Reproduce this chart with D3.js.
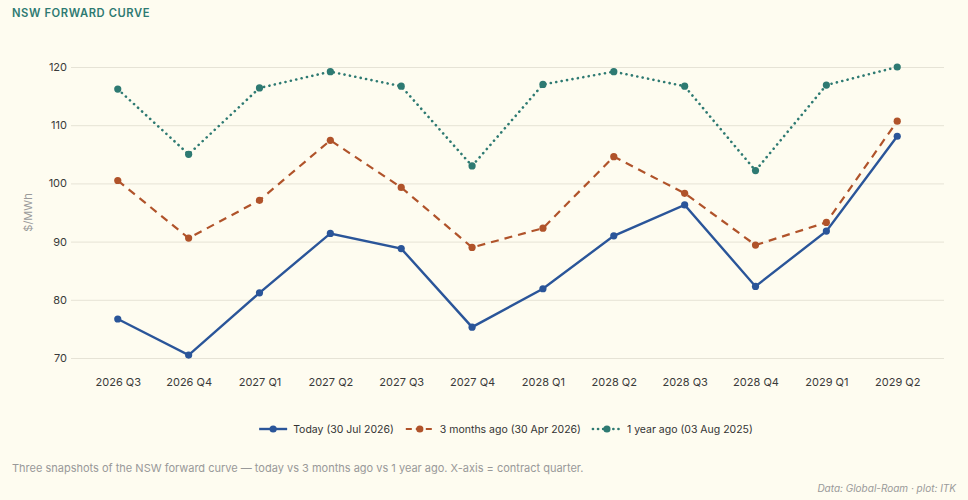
<!DOCTYPE html>
<html>
<head>
<meta charset="utf-8">
<script src="https://cdn.jsdelivr.net/npm/d3@7"></script>
<style>
  body { margin: 0; background: #fefcf0; font-family: Inter, "Noto Sans", sans-serif; }
</style>
</head>
<body>
<script>
// NSW forward curve - three snapshots

let w = 968
let h = 500

let quarters = ["2026 Q3", "2026 Q4", "2027 Q1", "2027 Q2", "2027 Q3", "2027 Q4",
                "2028 Q1", "2028 Q2", "2028 Q3", "2028 Q4", "2029 Q1", "2029 Q2"]

let today     = [76.7, 70.5, 81.2, 91.4, 88.8, 75.3, 81.9, 91.0, 96.3, 82.3, 91.8, 108.1]
let threeMo   = [100.5, 90.6, 97.1, 107.4, 99.3, 89.0, 92.3, 104.6, 98.3, 89.4, 93.3, 110.7]
let oneYear   = [116.2, 105.0, 116.4, 119.2, 116.7, 103.0, 117.0, 119.2, 116.7, 102.2, 116.9, 120.0]

let yTicks = [70, 80, 90, 100, 110, 120]

let series = [
  { name: "Today (30 Jul 2026)", values: today, color: "#2a5599", dash: null, legDash: null, cap: "butt", width: 2.4 },
  { name: "3 months ago (30 Apr 2026)", values: threeMo, color: "#b0532a", dash: "8,6", legDash: "6,4", cap: "butt", width: 2.2 },
  { name: "1 year ago (03 Aug 2025)", values: oneYear, color: "#2e7a72", dash: "0.1,5.4", legDash: "0.1,5", cap: "round", width: 2.6 }
]

let plotL = 71, plotR = 944, plotT = 67, plotB = 358

let svg = d3.select("body")
              .append("svg")
              .attr("width", w)
              .attr("height", h)

let x = d3.scalePoint()
            .domain(quarters)
            .range([plotL, plotR])
            .padding(0.66)

let y = d3.scaleLinear()
            .domain([70, 120])
            .range([plotB, plotT])

// title
svg.append("text")
    .attr("x", 12).attr("y", 17)
    .text("NSW FORWARD CURVE")
    .attr("font-size", "11.2px")
    .attr("font-weight", 600)
    .attr("letter-spacing", "0.6px")
    .attr("fill", "#2e7a72")

// y axis with gridlines
let yAxis = svg.append("g")
    .attr("transform", `translate(${plotL},0)`)
    .call(d3.axisLeft(y).tickValues(yTicks).tickSize(-(plotR - plotL)).tickPadding(4))
yAxis.select(".domain").remove()
yAxis.selectAll(".tick line").attr("stroke", "#e6e3d6").attr("stroke-width", 1)
yAxis.selectAll(".tick text")
    .attr("font-family", "Inter, sans-serif")
    .attr("font-size", "11px")
    .attr("fill", "#3a3a3a")

// x axis
let xAxis = svg.append("g")
    .attr("transform", `translate(0,${plotB})`)
    .call(d3.axisBottom(x).tickSize(0).tickPadding(20))
xAxis.select(".domain").remove()
xAxis.selectAll(".tick text")
    .attr("font-family", "Inter, sans-serif")
    .attr("font-size", "11px")
    .attr("fill", "#3a3a3a")

// y label
svg.append("text")
    .attr("transform", `translate(32,${(plotT + plotB) / 2}) rotate(-90)`)
    .attr("text-anchor", "middle")
    .text("$/MWh")
    .attr("font-size", "11px")
    .attr("fill", "#9a9a9a")

let line = d3.line()
    .x((d, i) => x(quarters[i]))
    .y(d => y(d))

// lines, drawn oldest first
series.slice().reverse().forEach(s => {
  svg.append("path")
      .datum(s.values)
      .attr("d", line)
      .attr("fill", "none")
      .attr("stroke", s.color)
      .attr("stroke-width", s.width)
      .attr("stroke-dasharray", s.dash)
      .attr("stroke-linecap", s.cap)

  svg.selectAll(null)
      .data(s.values)
      .enter()
      .append("circle")
        .attr("cx", (d, i) => x(quarters[i]))
        .attr("cy", d => y(d))
        .attr("r", 3.6)
        .attr("fill", s.color)
})

// legend
let legend = svg.append("g")
let widths = [0, 0, 0]
series.forEach((s, i) => {
  let g = legend.append("g")
  g.append("line")
      .attr("x1", 0).attr("x2", 28).attr("y1", 0).attr("y2", 0)
      .attr("stroke", s.color)
      .attr("stroke-width", s.width)
      .attr("stroke-dasharray", s.legDash)
      .attr("stroke-linecap", s.cap)
  g.append("circle").attr("cx", 14).attr("cy", 0).attr("r", 3.6).attr("fill", s.color)
  let t = g.append("text")
      .attr("x", 34).attr("y", 4)
      .text(s.name)
      .attr("font-size", "10.5px")
      .attr("fill", "#333")
  widths[i] = 34 + t.node().getComputedTextLength()
})
let gap = 12
let total = d3.sum(widths) + gap * 2
let cur = w / 2 + 22 - total / 2
legend.selectAll("g").each(function(d, i) {
  d3.select(this).attr("transform", `translate(${cur},429)`)
  cur += widths[i] + gap
})

// caption
svg.append("text")
    .attr("x", 12).attr("y", 472)
    .text("Three snapshots of the NSW forward curve — today vs 3 months ago vs 1 year ago. X-axis = contract quarter.")
    .attr("font-size", "11px")
    .attr("fill", "#999")

svg.append("text")
    .attr("x", 956).attr("y", 492)
    .attr("text-anchor", "end")
    .text("Data: Global-Roam · plot: ITK")
    .attr("font-size", "10px")
    .attr("font-style", "italic")
    .attr("fill", "#999")
</script>
</body>
</html>
